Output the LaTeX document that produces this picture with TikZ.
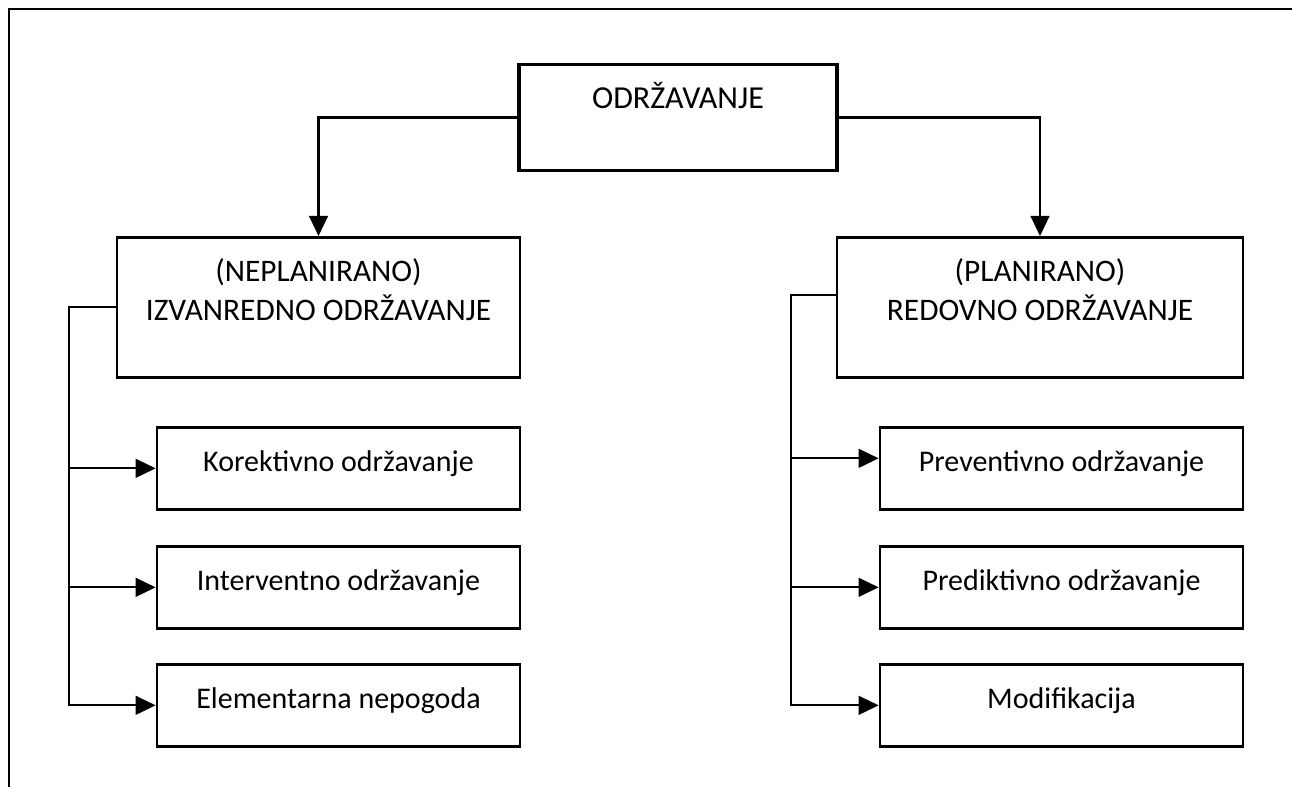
\documentclass[tikz,border=0pt]{standalone}
\usepackage{fontspec}
\setmainfont{Carlito}
\usepackage{tikz}
\usetikzlibrary{arrows.meta}

\tikzset{
    box/.style={draw, line width=2pt, anchor=north, inner ysep=0pt, text height=33pt,
        font=\fontsize{24}{29.3}\selectfont},
    bigbox/.style={box, align=center, text height=62.25pt, text depth=42.75pt,
        font=\fontsize{23.5}{29.3}\selectfont},
    smallbox/.style={box, minimum width=272.25pt, text depth=28.5pt,
        font=\fontsize{22.5}{27}\selectfont},
    conn/.style={line width=1.7pt},
    arr/.style={conn, -{Triangle[length=15pt, width=14pt]}},
}

\begin{document}
\begin{tikzpicture}[x=0.75pt, y=-0.75pt]
    \useasboundingbox (0, 0) rectangle (1292, 787);
    \draw[line width=2.2pt] (9, 787) |- (1292, 9);
    % vrh
    \node[box, line width=2.4pt, minimum width=238.5pt, text depth=46.5pt] (odr) at (678, 63) {ODRŽAVANJE};
    % druga razina
    \node[bigbox, minimum width=302.25pt] (izv) at (318.5, 236) {(NEPLANIRANO)\\IZVANREDNO ODRŽAVANJE};
    \node[bigbox, minimum width=304.5pt] (red) at (1040, 236) {(PLANIRANO)\\REDOVNO ODRŽAVANJE};
    \draw[arr] (odr.west) -| (izv.north);
    \draw[arr] (odr.east) -| (red.north);
    % izvanredno
    \node[smallbox] (kor) at (338.5, 426) {Korektivno održavanje};
    \node[smallbox] (int) at (338.5, 545) {Interventno održavanje};
    \node[smallbox] (ele) at (338.5, 663) {Elementarna nepogoda};
    \coordinate (lspine) at (69, 0);
    \draw[arr] (izv.west) -- (izv.west -| lspine) |- (ele.west);
    \draw[arr] (lspine |- kor.west) -- (kor.west);
    \draw[arr] (lspine |- int.west) -- (int.west);
    % redovno
    \node[smallbox] (pre) at (1061.5, 426) {Preventivno održavanje};
    \node[smallbox] (pred) at (1061.5, 545) {Prediktivno održavanje};
    \node[smallbox] (mod) at (1061.5, 663) {Modifikacija};
    \coordinate (rspine) at (791, 295);
    \draw[arr] (red.west |- rspine) -- (rspine) |- (mod.west);
    \draw[arr] (rspine |- pre.west) ++(0, -10) -- ([yshift=7.5pt]pre.west);
    \draw[arr] (rspine |- pred.west) -- (pred.west);
\end{tikzpicture}
\end{document}
